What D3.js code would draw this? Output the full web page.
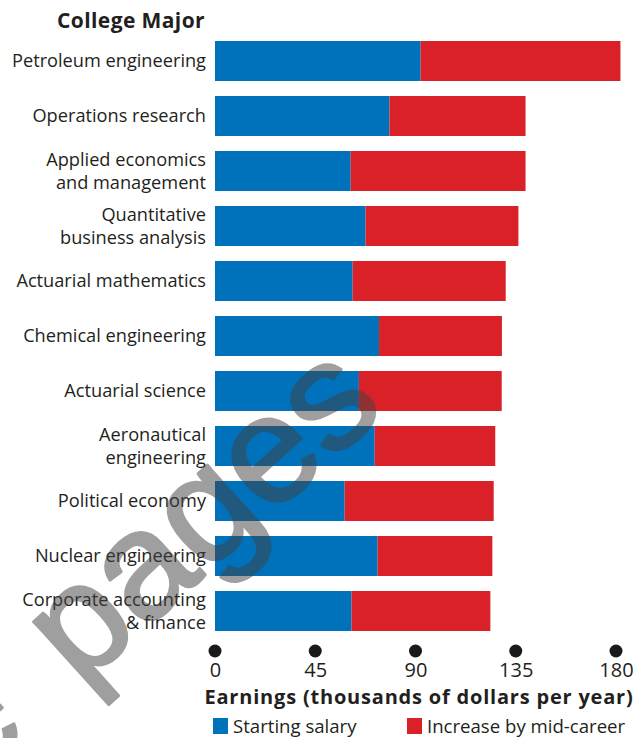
<!DOCTYPE html>
<html><head><meta charset="utf-8">
<script src="https://cdn.jsdelivr.net/npm/d3@7"></script>
<style>
html,body{margin:0;padding:0;background:#fff;}
svg{display:block;}
text{font-family:"Open Sans", "Noto Sans", sans-serif; fill:#231F20;}
</style></head>
<body>
<svg id="chart" width="644" height="738"></svg>
<script>
const categories = [
  "Petroleum engineering",
  "Operations research",
  "Applied economics\nand management",
  "Quantitative\nbusiness analysis",
  "Actuarial mathematics",
  "Chemical engineering",
  "Actuarial science",
  "Aeronautical\nengineering",
  "Political economy",
  "Nuclear engineering",
  "Corporate accounting\n& finance"
];
const startingSalary = [92.3, 78.3, 60.9, 67.6, 61.8, 73.6, 64.6, 71.7, 58.2, 73.0, 61.3];
const increaseMidCareer = [89.7, 61.1, 78.5, 68.6, 68.7, 55.2, 64.1, 54.1, 66.9, 51.5, 62.3];
const tickValues = [0, 45, 90, 135, 180];
const seriesNames = ["Starting salary", "Increase by mid-career"];
const colors = ["#0072BC", "#DA2128"];

const svg = d3.select("#chart");
const x = d3.scaleLinear().domain([0, 180]).range([215, 616]);
const y = d3.scaleBand().domain(categories).range([41, 631]).paddingInner(15/55).paddingOuter(0);

const data = categories.map((c, i) => ({cat: c, s: startingSalary[i], inc: increaseMidCareer[i]}));

// bars
const g = svg.append("g");
g.selectAll("rect.start").data(data).join("rect")
  .attr("x", x(0)).attr("y", d => y(d.cat))
  .attr("width", d => x(d.s) - x(0)).attr("height", y.bandwidth())
  .attr("fill", colors[0]);
g.selectAll("rect.inc").data(data).join("rect")
  .attr("x", d => x(d.s)).attr("y", d => y(d.cat))
  .attr("width", d => x(d.s + d.inc) - x(d.s)).attr("height", y.bandwidth())
  .attr("fill", colors[1]);

// category labels
const lab = svg.append("g").selectAll("text").data(data).join("text")
  .attr("text-anchor", "end").attr("font-size", 18.2)
  .attr("x", 206)
  .attr("y", d => y(d.cat) + y.bandwidth()/2);
lab.each(function(d) {
  const lines = d.cat.split("\n");
  const t = d3.select(this);
  if (lines.length === 1) {
    t.append("tspan").attr("x", 206).attr("dy", 6).text(lines[0]);
  } else {
    t.append("tspan").attr("x", 206).attr("dy", -5).text(lines[0]);
    t.append("tspan").attr("x", 206).attr("dy", 23).text(lines[1]);
  }
});

// title
svg.append("text").attr("x", 205).attr("y", 28).attr("text-anchor", "end")
  .attr("font-size", 21).attr("font-weight", "bold").attr("letter-spacing", 0.4)
  .text("College Major");

// axis
const axis = d3.axisBottom(x).tickValues(tickValues).tickSize(0).tickPadding(0);
const ax = svg.append("g").attr("transform", "translate(0,663)").call(axis);
ax.select(".domain").remove();
ax.selectAll("text").attr("font-size", 20).attr("font-family", "'Open Sans', sans-serif")
  .attr("fill", "#231F20").attr("dy", "0.71em").attr("y", 0);
svg.append("g").selectAll("circle").data(tickValues).join("circle")
  .attr("cx", d => x(d)).attr("cy", 651).attr("r", 6.5).attr("fill", "#1a1a1a");

svg.append("text").attr("x", 419).attr("y", 704).attr("text-anchor", "middle")
  .attr("font-size", 20).attr("font-weight", "bold").attr("letter-spacing", 0.8)
  .text("Earnings (thousands of dollars per year)");

// legend
const legX = [213, 407];
const lg = svg.append("g").selectAll("g").data(seriesNames).join("g")
  .attr("transform", (d, i) => `translate(${legX[i]},718)`);
lg.append("rect").attr("width", 15).attr("height", 16).attr("fill", (d, i) => colors[i]);
lg.append("text").attr("x", 20).attr("y", 15).attr("font-size", 18.6).text(d => d);

// watermark
const wm = svg.append("g").attr("opacity", 0.5)
  .attr("transform", "translate(80,688) rotate(-42)");
const wmStyle = sel => sel
  .style("font-family", "'Liberation Sans', Arial, sans-serif")
  .style("font-size", "152px")
  .style("fill", "#424242").style("stroke", "#424242").style("stroke-width", 3)
  .style("stroke-linejoin", "round");
wm.append("text").attr("x", 0).attr("y", 0).attr("text-anchor", "start").call(wmStyle).text("pages");
wm.append("text").attr("x", -64).attr("y", 0).attr("text-anchor", "end").call(wmStyle).text("Sample");
</script>
</body></html>
